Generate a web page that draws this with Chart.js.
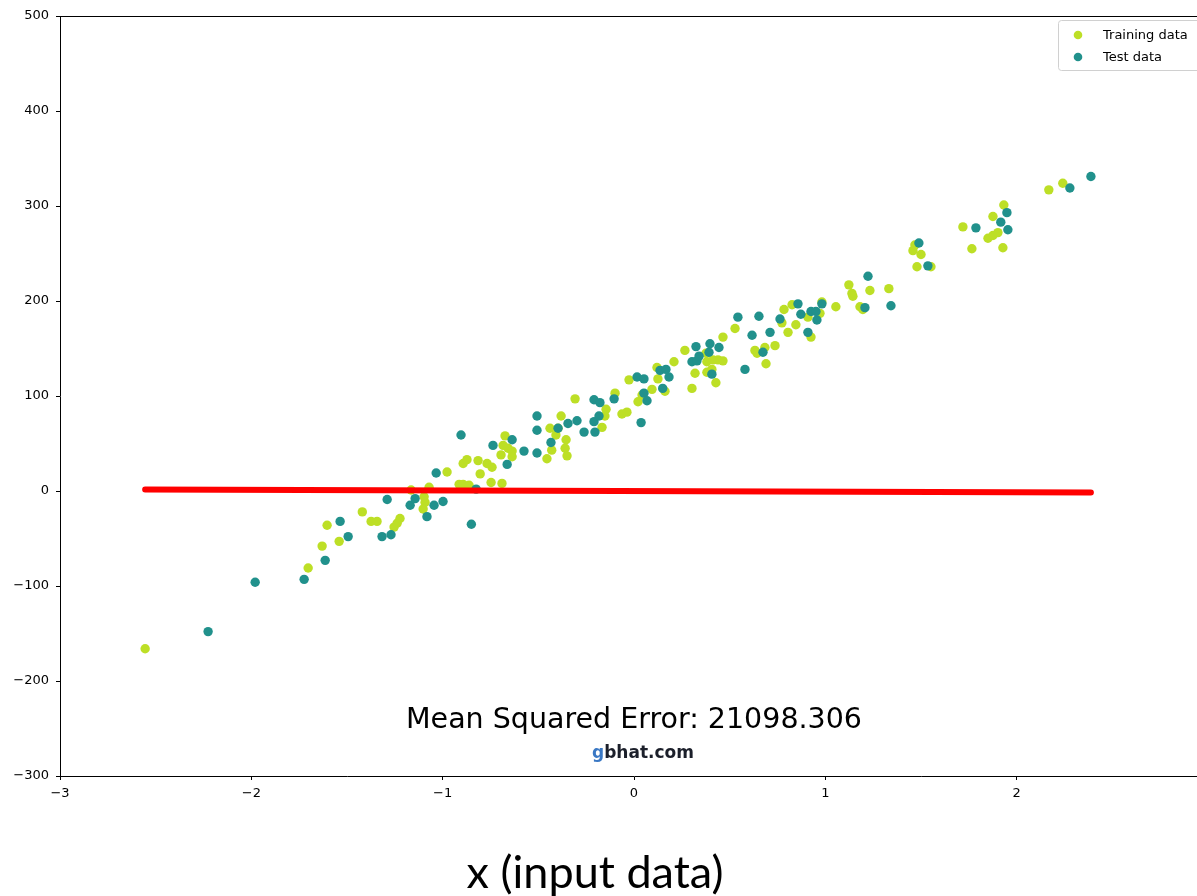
<!DOCTYPE html>
<html>
<head>
<meta charset="utf-8">
<script src="https://cdn.jsdelivr.net/npm/chart.js@4.4.1/dist/chart.umd.min.js"></script>
<style>
  html, body { margin: 0; padding: 0; background: #fff; overflow: hidden; }
  #wrap { width: 1220px; height: 896px; }
</style>
</head>
<body>
<div id="wrap"><canvas id="chart" width="1220" height="896"></canvas></div>
<script>
// Training samples (x, y)
const trainX = [-2.555,-1.703,-1.63,-1.541,-1.604,-1.42,-1.374,-1.343,-1.254,-1.238,-1.223,-1.165,-1.097,-1.092,-1.102,-1.071,-0.977,-0.914,-0.893,-0.862,-0.893,-0.873,-0.815,-0.768,-0.742,-0.804,-0.747,-0.69,-0.674,-0.684,-0.658,-0.637,-0.695,-0.637,-0.455,-0.43,-0.439,-0.408,-0.397,-0.355,-0.36,-0.35,-0.381,-0.308,-0.167,-0.146,-0.152,-0.099,-0.063,-0.037,-0.026,0.021,0.042,0.094,0.162,0.125,0.12,0.209,0.266,0.319,0.303,0.376,0.381,0.413,0.439,0.465,0.381,0.407,0.428,0.465,0.528,0.632,0.643,0.684,0.69,0.737,0.773,0.784,0.805,0.826,0.846,0.925,0.909,0.972,0.982,1.055,1.123,1.139,1.144,1.233,1.181,1.196,1.332,1.458,1.468,1.479,1.5,1.552,1.719,1.766,1.876,1.933,1.85,1.876,1.902,1.928,2.168,2.241];
const trainY = [-166,-81,-58,-53,-36,-22,-32,-32,-38,-34,-29,1,-6,-12,-19,4,20,7,7,6,29,33,32,29,25,18,9,8,58,48,45,42,38,36,34,43,66,59,66,54,45,37,79,97,67,86,79,103,81,83,117,94,101,107,105,118,130,136,148,124,108,145,136,138,138,137,125,128,114,162,171,148,145,151,134,153,177,191,167,196,175,162,183,187,199,194,217,208,205,211,194,191,213,253,259,236,249,236,278,255,289,301,266,269,272,256,317,324];

// Test samples (x, y)
const testX = [-2.226,-1.98,-1.724,-1.614,-1.536,-1.494,-1.317,-1.27,-1.29,-1.17,-1.144,-1.082,-1.045,-0.998,-1.034,-0.85,-0.825,-0.904,-0.737,-0.637,-0.663,-0.575,-0.507,-0.507,-0.507,-0.434,-0.397,-0.345,-0.298,-0.261,-0.204,-0.209,-0.183,-0.209,-0.178,-0.104,0.037,0.016,0.052,0.052,0.068,0.15,0.136,0.167,0.183,0.324,0.303,0.329,0.34,0.397,0.392,0.444,0.407,0.543,0.617,0.674,0.58,0.653,0.711,0.763,0.857,0.872,0.909,0.925,0.951,0.956,0.982,1.223,1.207,1.343,1.489,1.536,1.787,1.949,1.917,1.954,2.278,2.388];
const testY = [-148,-96,-93,-73,-32,-48,-48,-46,-9,-15,-8,-27,-15,-11,19,-35,2,59,48,54,28,42,79,64,40,51,66,71,74,62,62,73,79,96,93,97,72,120,118,103,95,108,127,128,120,152,136,137,142,155,146,151,123,183,164,146,128,184,167,181,197,186,167,189,189,180,197,226,193,195,261,237,277,293,283,275,319,331];

// Fitted model line (predictions at the ends of the data range)
const fitX = [-2.555, 2.388];
const fitY = [1.5, -1.5];

// Axis ticks
const xTicks = [-3, -2, -1, 0, 1, 2, 3];
const yTicks = [-300, -200, -100, 0, 100, 200, 300, 400, 500];

const legendOrder = ['Training data', 'Test data'];
const mseLabel = 'Mean Squared Error: 21098.306';
const xTitle = 'x (input data)';
const brandHead = 'g';
const brandTail = 'bhat.com';

const COLOR_TRAIN = '#bddf26';
const COLOR_TEST = '#21918c';

const toPts = (xs, ys) => xs.map((x, i) => ({ x: x, y: ys[i] }));
const minus = v => String(v).replace('-', '\u2212');

// Top/right frame, legend, annotations and x caption
const extras = {
  id: 'extras',
  afterDraw(chart) {
    const { ctx, chartArea: a, scales } = chart;
    ctx.save();
    ctx.strokeStyle = '#000';
    ctx.lineWidth = 1;
    ctx.beginPath();
    ctx.moveTo(a.left, a.top + 0.5);
    ctx.lineTo(a.right, a.top + 0.5);
    ctx.moveTo(a.right - 0.5, a.top);
    ctx.lineTo(a.right - 0.5, a.bottom);
    ctx.stroke();

    // legend
    const lx = a.right - 150, ly = a.top + 4, lw = 146, lh = 50;
    ctx.fillStyle = 'rgba(255,255,255,0.8)';
    ctx.strokeStyle = '#d0d0d0';
    ctx.beginPath();
    ctx.roundRect(lx + 0.5, ly + 0.5, lw, lh, 3);
    ctx.fill();
    ctx.stroke();
    const items = legendOrder.map(name => chart.data.datasets.find(d => d.label === name));
    ctx.font = '13px "DejaVu Sans"';
    ctx.textBaseline = 'middle';
    ctx.textAlign = 'left';
    items.forEach((d, i) => {
      const cy = ly + 15 + i * 22;
      ctx.fillStyle = d.backgroundColor;
      ctx.beginPath();
      ctx.arc(lx + 20, cy, 4.3, 0, Math.PI * 2);
      ctx.fill();
      ctx.fillStyle = '#000';
      ctx.fillText(d.label, lx + 45, cy + 1);
    });

    // MSE annotation
    const mx = scales.x.getPixelForValue(0);
    const my = scales.y.getPixelForValue(-240) + 2;
    ctx.font = '28.5px "DejaVu Sans"';
    ctx.textAlign = 'center';
    ctx.fillStyle = '#000';
    ctx.fillText(mseLabel, mx, my);

    // site mark
    ctx.font = 'bold 17px "DejaVu Sans"';
    ctx.textAlign = 'left';
    const wh = ctx.measureText(brandHead).width;
    const wt = ctx.measureText(brandTail).width;
    const bx = mx + 9 - (wh + wt) / 2;
    const by = my + 33;
    ctx.fillStyle = '#3a78c4';
    ctx.fillText(brandHead, bx, by);
    ctx.fillStyle = '#1b1f2a';
    ctx.fillText(brandTail, bx + wh, by);

    // x caption under the axis
    ctx.font = '45px Lato';
    ctx.textAlign = 'center';
    ctx.fillStyle = '#000';
    ctx.fillText(xTitle, mx - 39, chart.height - 23);
    ctx.restore();
  }
};

new Chart(document.getElementById('chart'), {
  type: 'scatter',
  data: {
    datasets: [
      {
        label: 'fit',
        type: 'line',
        data: toPts(fitX, fitY),
        borderColor: '#ff0000',
        borderWidth: 6,
        borderCapStyle: 'round',
        pointRadius: 0,
        fill: false,
        order: 0
      },
      {
        label: 'Test data',
        data: toPts(testX, testY),
        backgroundColor: COLOR_TEST,
        borderWidth: 0,
        pointRadius: 4.7,
        order: 1
      },
      {
        label: 'Training data',
        data: toPts(trainX, trainY),
        backgroundColor: COLOR_TRAIN,
        borderWidth: 0,
        pointRadius: 4.7,
        order: 2
      }
    ]
  },
  options: {
    responsive: false,
    animation: false,
    events: [],
    layout: { padding: { top: 16, right: 12, left: 0, bottom: 0 } },
    plugins: { legend: { display: false }, tooltip: { enabled: false } },
    scales: {
      x: {
        type: 'linear',
        min: xTicks[0],
        max: xTicks[xTicks.length - 1],
        afterFit(s) { s.height = 120; },
        afterBuildTicks(s) { s.ticks = xTicks.map(v => ({ value: v })); },
        ticks: {
          color: '#000',
          padding: 6,
          maxRotation: 0,
          font: { family: 'DejaVu Sans', size: 13 },
          callback: v => minus(v)
        },
        grid: { drawOnChartArea: false, drawTicks: true, tickLength: 4, color: '#000' },
        border: { display: true, color: '#000', width: 1 }
      },
      y: {
        type: 'linear',
        min: yTicks[0],
        max: yTicks[yTicks.length - 1],
        afterFit(s) { s.width = 60; },
        afterBuildTicks(s) { s.ticks = yTicks.map(v => ({ value: v })); },
        ticks: {
          color: '#000',
          padding: 7,
          font: { family: 'DejaVu Sans', size: 13 },
          callback: v => minus(v)
        },
        grid: { drawOnChartArea: false, drawTicks: true, tickLength: 4, color: '#000' },
        border: { display: true, color: '#000', width: 1 }
      }
    }
  },
  plugins: [extras]
});
</script>
</body>
</html>
